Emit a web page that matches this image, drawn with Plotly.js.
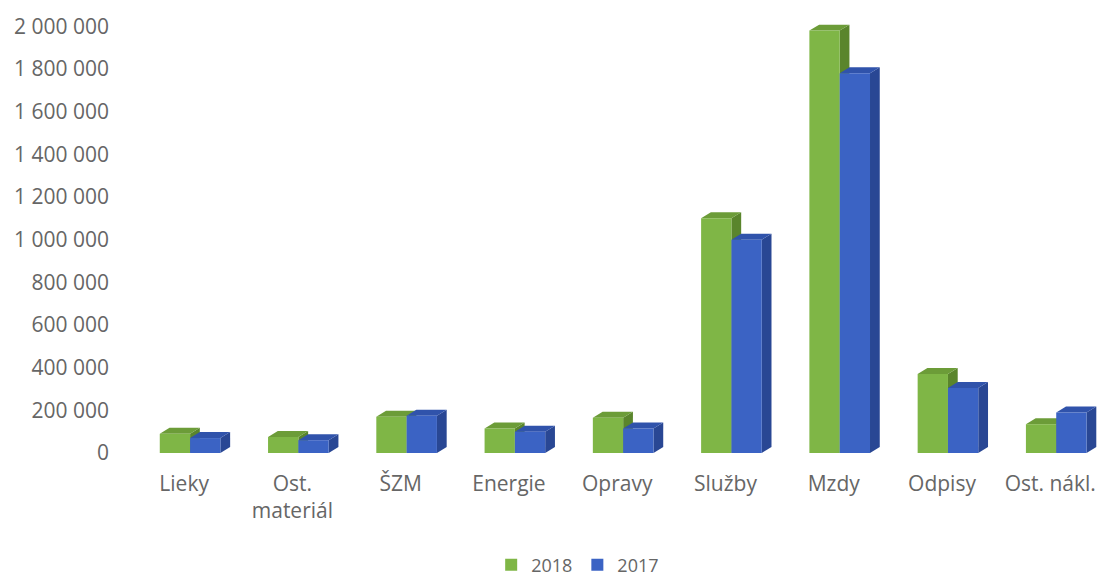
<!DOCTYPE html>
<html>
<head>
<meta charset="utf-8">
<script src="https://cdn.plot.ly/plotly-3.0.1.min.js"></script>
<style>html,body{margin:0;padding:0;background:#fff;}#chart{width:1099px;height:579px;}</style>
</head>
<body>
<div id="chart"></div>
<script>
const categories = ['Lieky', 'Ost.<br>materiál', 'ŠZM', 'Energie', 'Opravy', 'Služby', 'Mzdy', 'Odpisy', 'Ost. nákl.'];
const values2018 = [90000, 75000, 170000, 115000, 165000, 1100000, 1980000, 370000, 135000];
const values2017 = [70000, 60000, 175000, 100000, 115000, 1000000, 1780000, 305000, 190000];
const yTickVals = [0, 200000, 400000, 600000, 800000, 1000000, 1200000, 1400000, 1600000, 1800000, 2000000];
const yTickText = ['0', '200 000', '400 000', '600 000', '800 000', '1 000 000', '1 200 000', '1 400 000', '1 600 000', '1 800 000', '2 000 000'];

const xIdx = categories.map((c, i) => i);
const W = 0.28;          // bar width (category units)
const OFF18 = -0.225;    // left edge offset of 2018 bar
const OFF17 = OFF18 + W; // left edge offset of 2017 bar
const DX = 0.09;         // depth offset x (category units)
const DY = 28000;        // depth offset y (value units)

const green = {front: '#7fb646', top: '#6c9c38', side: '#5a852c'};
const blue = {front: '#3b63c4', top: '#3053ab', side: '#294794'};

function faces(vals, off, col) {
  const out = [];
  vals.forEach((v, i) => {
    const x0 = i + off, x1 = x0 + W;
    out.push({type: 'path', xref: 'x', yref: 'y', layer: 'below', line: {width: 0}, fillcolor: col.side,
      path: `M${x1},0 L${x1},${v} L${x1 + DX},${v + DY} L${x1 + DX},${DY} Z`});
    out.push({type: 'path', xref: 'x', yref: 'y', layer: 'below', line: {width: 0}, fillcolor: col.top,
      path: `M${x0},${v} L${x1},${v} L${x1 + DX},${v + DY} L${x0 + DX},${v + DY} Z`});
  });
  return out;
}

const shapes = faces(values2018, OFF18, green).concat(faces(values2017, OFF17, blue));

const traces = [
  {type: 'bar', name: '2018', x: xIdx, y: values2018, width: W, offset: OFF18,
   marker: {color: green.front, line: {width: 0}}, hoverinfo: 'y'},
  {type: 'bar', name: '2017', x: xIdx, y: values2017, width: W, offset: OFF17,
   marker: {color: blue.front, line: {width: 0}}, hoverinfo: 'y'}
];

const font = {family: '"Open Sans", sans-serif', size: 21, color: '#666666'};

const layout = {
  width: 1099, height: 579,
  margin: {l: 130, r: 0, t: 5, b: 126, autoexpand: false},
  paper_bgcolor: '#ffffff', plot_bgcolor: '#ffffff',
  font: font,
  showlegend: true,
  barmode: 'overlay',
  xaxis: {
    type: 'linear', range: [-0.5, 8.45],
    tickvals: xIdx, ticktext: categories,
    showgrid: false, zeroline: false, showline: false, ticks: '',
    ticklabelstandoff: 16, automargin: false,
    tickfont: font, fixedrange: true
  },
  yaxis: {
    range: [0, 2100000],
    tickvals: yTickVals, ticktext: yTickText,
    showgrid: false, zeroline: false, showline: false, ticks: '',
    ticklabelstandoff: 20, automargin: false,
    tickfont: font, fixedrange: true
  },
  legend: {
    orientation: 'h', xref: 'paper', x: 0.462, xanchor: 'center',
    yref: 'container', y: 0.024, yanchor: 'middle',
    font: {family: '"Open Sans", sans-serif', size: 18, color: '#666666'},
    itemwidth: 30, traceorder: 'normal', tracegroupgap: 0
  },
  shapes: shapes
};

Plotly.newPlot('chart', traces, layout, {displayModeBar: false, staticPlot: true});
</script>
</body>
</html>
